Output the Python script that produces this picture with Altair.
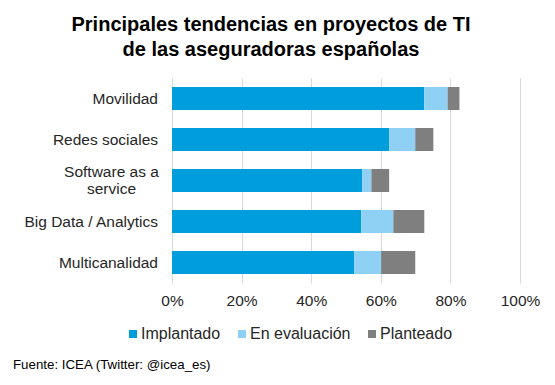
import altair as alt
import pandas as pd

categorias = ["Movilidad", "Redes sociales", "Software as a service", "Big Data / Analytics", "Multicanalidad"]
implantado = [72.5, 62.4, 54.7, 54.4, 52.4]
evaluacion = [6.7, 7.5, 2.6, 9.2, 7.7]
planteado = [3.4, 5.2, 5.1, 8.9, 9.8]
series = ["Implantado", "En evaluación", "Planteado"]
colores = ["#009DDC", "#8ED1F4", "#7F7F7F"]

rows = []
for i, c in enumerate(categorias):
    for k, (s, vals) in enumerate(zip(series, [implantado, evaluacion, planteado])):
        rows.append({"cat": c, "serie": s, "valor": vals[i] / 100.0, "orden": k})
df = pd.DataFrame(rows)

test_sw = "datum.value == 'Software as a service'"

bars = alt.Chart(df).mark_bar(size=23).encode(
    y=alt.Y("cat:N", sort=categorias, title=None,
            scale=alt.Scale(paddingInner=0.44, paddingOuter=0.22),
            axis=alt.Axis(labelFontSize=15.5, labelColor="#262626", labelFont="Liberation Sans",
                          ticks=False, domain=False, labelLimit=200, labelLineHeight=17,
                          labelAlign={"condition": {"test": test_sw, "value": "center"}, "value": "right"},
                          labelPadding={"condition": {"test": test_sw, "value": 61}, "value": 14.5},
                          labelOffset={"condition": {"test": test_sw, "value": -9}, "value": 0},
                          labelExpr="datum.label == 'Software as a service' ? ['Software as a', 'service'] : datum.label")),
    x=alt.X("valor:Q", title=None, stack="zero",
            scale=alt.Scale(domain=[0, 1], nice=False),
            axis=alt.Axis(format=".0%", values=[0, 0.2, 0.4, 0.6, 0.8, 1.0], labelFontSize=15.5,
                          labelColor="#262626", labelFont="Liberation Sans", ticks=False, domain=False,
                          gridColor="#D9D9D9", labelPadding=10, labelFlush=False)),
    color=alt.Color("serie:N", sort=series,
                    scale=alt.Scale(domain=series, range=colores),
                    legend=alt.Legend(title=None, orient="none", direction="horizontal",
                                      legendX=-47, legendY=248, symbolType="square", symbolSize=64,
                                      symbolStrokeWidth=0, labelFontSize=16, labelFont="Liberation Sans",
                                      labelColor="#262626", columnPadding=13, labelOffset=0)),
    order=alt.Order("orden:Q"),
)

fuente = alt.Chart(pd.DataFrame({"t": ["Fuente: ICEA (Twitter: @icea_es)"]})).mark_text(
    align="left", baseline="middle", fontSize=13.3, font="Liberation Sans", color="#000000"
).encode(x=alt.value(-159), y=alt.value(287), text="t:N")

chart = alt.layer(bars, fuente).properties(
    width=348, height=205,
    padding={"left": 164, "top": 70, "right": 20, "bottom": 100},
    autosize=alt.AutoSizeParams(type="none"),
    title=alt.TitleParams(["Principales tendencias en proyectos de TI", "de las aseguradoras españolas"],
                          anchor="middle", dx=-75, fontSize=20, font="Liberation Sans", fontWeight="bold",
                          color="#000000", offset=18, lineHeight=25),
).configure_view(stroke=None)

chart.save("out.html", embed_options={"renderer": "svg", "actions": False})
